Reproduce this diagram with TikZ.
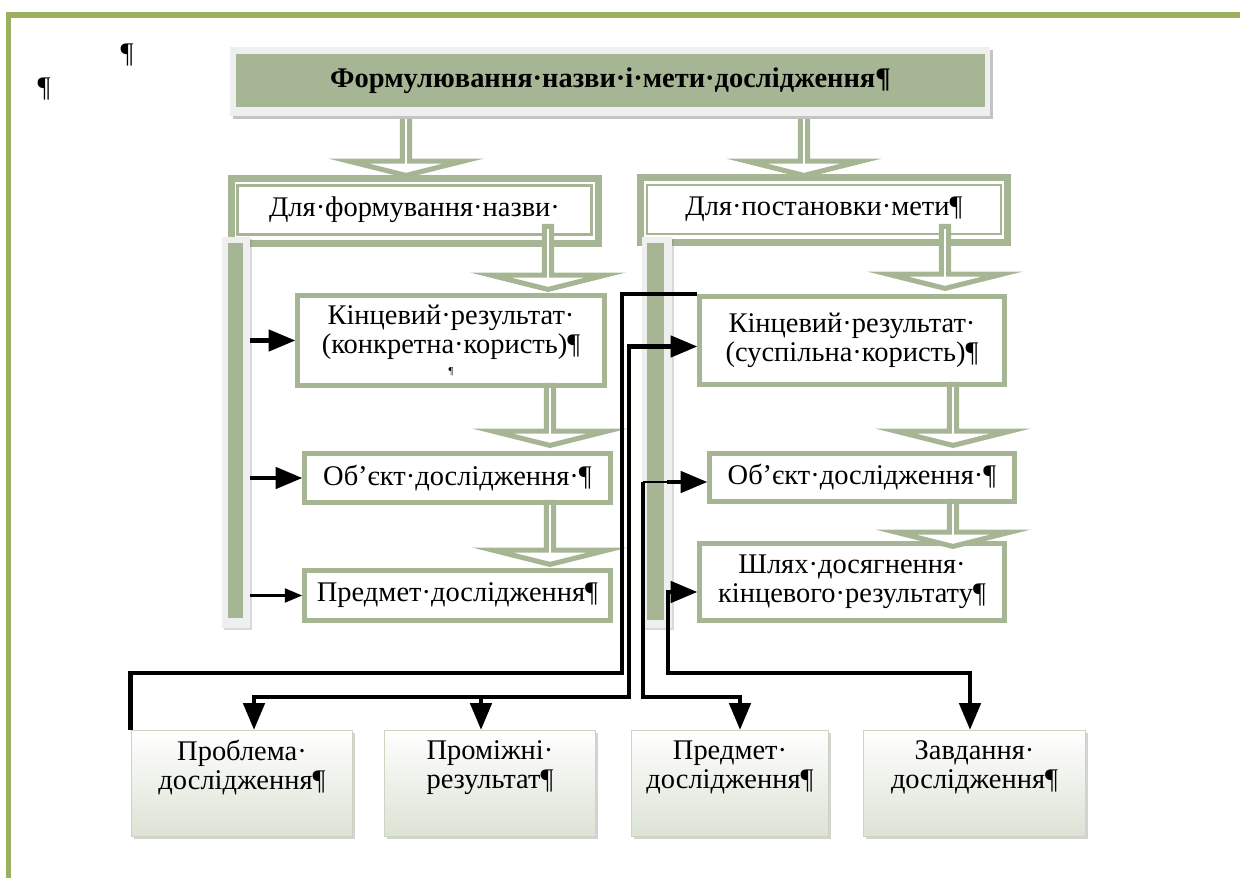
\documentclass[tikz,border=0pt]{standalone}
\usepackage{fontspec}
\setmainfont{Liberation Serif}
\usepackage{tikz}
\usetikzlibrary{arrows}
\usetikzlibrary{shapes.arrows}
\usetikzlibrary{shadows}
\definecolor{framegreen}{RGB}{155,176,96}
\definecolor{sage}{RGB}{166,181,147}
\definecolor{palegray}{RGB}{239,239,239}
\definecolor{edgegray}{RGB}{196,196,196}
\definecolor{botfill}{RGB}{220,226,212}
\definecolor{botline}{RGB}{204,212,194}
\tikzset{
  midbox/.style={draw=sage, line width=0.1cm, line join=miter, fill=white, align=center, inner sep=0pt},
  forbox/.style={draw=sage, line width=0.05cm, line join=miter, fill=white, inner sep=0pt, minimum width=7.09cm, minimum height=0.99cm},
  forframe/.style={draw=sage, line width=0.14cm, line join=miter},
  botbox/.style={draw=botline, line width=0.02cm, top color=white, bottom color=botfill, align=center, inner sep=0pt, minimum height=2.14cm, drop shadow={shadow xshift=0.05cm, shadow yshift=-0.05cm, opacity=0.35}},
  hollow/.style={single arrow, shape border rotate=270, draw=sage, line width=0.1cm, line join=miter, fill=white, inner sep=0pt, minimum width=2.3cm, single arrow head extend=0.73cm, single arrow tip angle=152, anchor=tip},
  barbox/.style={fill=palegray, inner sep=0pt, minimum width=0.56cm, minimum height=7.82cm, drop shadow={shadow xshift=0.04cm, shadow yshift=-0.04cm, opacity=0.3}},
  link/.style={line width=0.09cm, line join=miter, line cap=butt},
  thinlink/.style={line width=0.03cm, line cap=butt},
  thinarrow/.style={line width=0.045cm, line cap=butt}
}

\begin{document}
\begin{tikzpicture}[line cap=round,line join=round,>=triangle 45,x=0.02cm,y=-0.02cm,
  font=\fontsize{16.2pt}{16.6pt}\selectfont]
\useasboundingbox (0,0) rectangle (1240,878);
% page frame
\fill[framegreen] (6,12) rectangle (1240,18);
\fill[framegreen] (6,12) rectangle (11,878);
\node (pil1) at (127,55) {¶};
\node (pil2) at (44,89) {¶};
%
\node[hollow, minimum height=1.36cm] (arTL) at (406,178) {};
\node[hollow, minimum height=1.36cm] (arTR) at (804,178) {};
\fill[edgegray] (233,50) rectangle (993,119);
\fill[palegray] (230,47) rectangle (990,116);
\node[fill=sage, minimum width=14.98cm, minimum height=1.06cm, inner sep=0pt, font=\fontsize{16.2pt}{16.6pt}\selectfont\bfseries] (title) at (610.5,80.5) {Формулювання·назви·і·мети·дослідження¶};
%
\node[forbox] (forL) at (414.5,210) {Для·формування·назви·};
\draw[forframe] ([shift={(-5,-6)}]forL.north west) rectangle ([shift={(5.5,7.5)}]forL.south east);
\node[forbox] (forR) at (824,209.5) {Для·постановки·мети¶};
\draw[forframe] ([shift={(-5,-6)}]forR.north west) rectangle ([shift={(5.5,7.5)}]forR.south east);
\node[barbox] (barL) at (236,432.5) {};
\fill[sage] (228,243) rectangle (243,618);
\node[barbox, minimum width=0.6cm] (barR) at (657,432.5) {};
\fill[sage] (647,243) rectangle (664,620);
%
\node[midbox, minimum width=6.14cm, minimum height=1.8cm] (kinL) at (451,340.5) {Кінцевий·результат·\\(конкретна·користь)¶\\[-5pt]{\fontsize{6pt}{6pt}\selectfont ¶}};
\node[midbox, minimum width=6.12cm, minimum height=0.98cm] (objL) at (457.5,478) {Об’єкт·дослідження·¶};
\node[midbox, minimum width=6.12cm, minimum height=1.0cm] (predL) at (457.5,595.5) {Предмет·дослідження¶};
\node[midbox, minimum width=6.1cm, minimum height=1.76cm] (kinR) at (852,340.5) {Кінцевий·результат·\\(суспільна·користь)¶};
\node[midbox, minimum width=6.1cm, minimum height=0.96cm] (objR) at (862,477.5) {Об’єкт·дослідження·¶};
\node[midbox, minimum width=6.1cm, minimum height=1.54cm] (shlyakh) at (852,582) {Шлях·досягнення·\\кінцевого·результату¶};
%
\node[hollow, minimum height=1.26cm] (arL1) at (548,292) {};
\node[hollow, minimum height=1.2cm] (arL2) at (550,448) {};
\node[hollow, minimum height=1.24cm] (arL3) at (550,567) {};
\node[hollow, minimum height=1.24cm] (arR1) at (945,291) {};
\node[hollow, minimum height=1.22cm] (arR2) at (953,448) {};
\node[hollow, minimum height=0.9cm] (arR3) at (953,549) {};
%
\node[botbox, minimum width=4.44cm] (probl) at (242,783.5) {Проблема·\\дослідження¶\\\strut};
\node[botbox, minimum width=4.24cm] (promizh) at (490,783.5) {Проміжні·\\результат¶\\\strut};
\node[botbox, minimum width=3.96cm] (predm) at (730,783.5) {Предмет·\\дослідження¶\\\strut};
\node[botbox, minimum width=4.46cm] (zavd) at (974.5,783.5) {Завдання·\\дослідження¶\\\strut};
%
\draw[link,->] (barL.east |- kinL.west) -- (kinL.west);
\draw[link,->] (barL.east |- objL.west) -- (objL.west);
\draw[thinarrow,->] (barL.east |- predL.west) -- (predL.west);
%
\coordinate (busA) at (622,673);
\coordinate (busB) at (629,697);
\coordinate (busC) at (643,697);
\coordinate (busD) at (668,673);
\coordinate (kinIn) at ([yshift=-0.12cm]kinR.west);
\coordinate (objIn) at ([yshift=-0.09cm]objR.west);
\coordinate (shIn) at ([yshift=-0.2cm]shlyakh.west);
\coordinate (problIn) at ([xshift=0.24cm]probl.north);
\coordinate (promIn) at ([xshift=-0.18cm]promizh.north);
\coordinate (predIn) at ([xshift=0.2cm]predm.north);
\coordinate (zavdIn) at ([xshift=-0.09cm]zavd.north);
\coordinate (cKnee) at (objIn -| busC);
\draw[link] (kinR.north west) -| (busA) -| (probl.north west);
\draw[link,<->] (kinIn) -| (busB) -| (problIn);
\draw[link,->] (promIn |- busB) -- (promIn);
\draw[link,->] (cKnee) -- (busC) -| (predIn);
\draw[thinlink] (cKnee) -- ++(24,0);
\draw[link,->] ([xshift=0.48cm]cKnee) -- (objIn);
\draw[link,<->] (shIn) -| (busD) -| (zavdIn);
\end{tikzpicture}
\end{document}
